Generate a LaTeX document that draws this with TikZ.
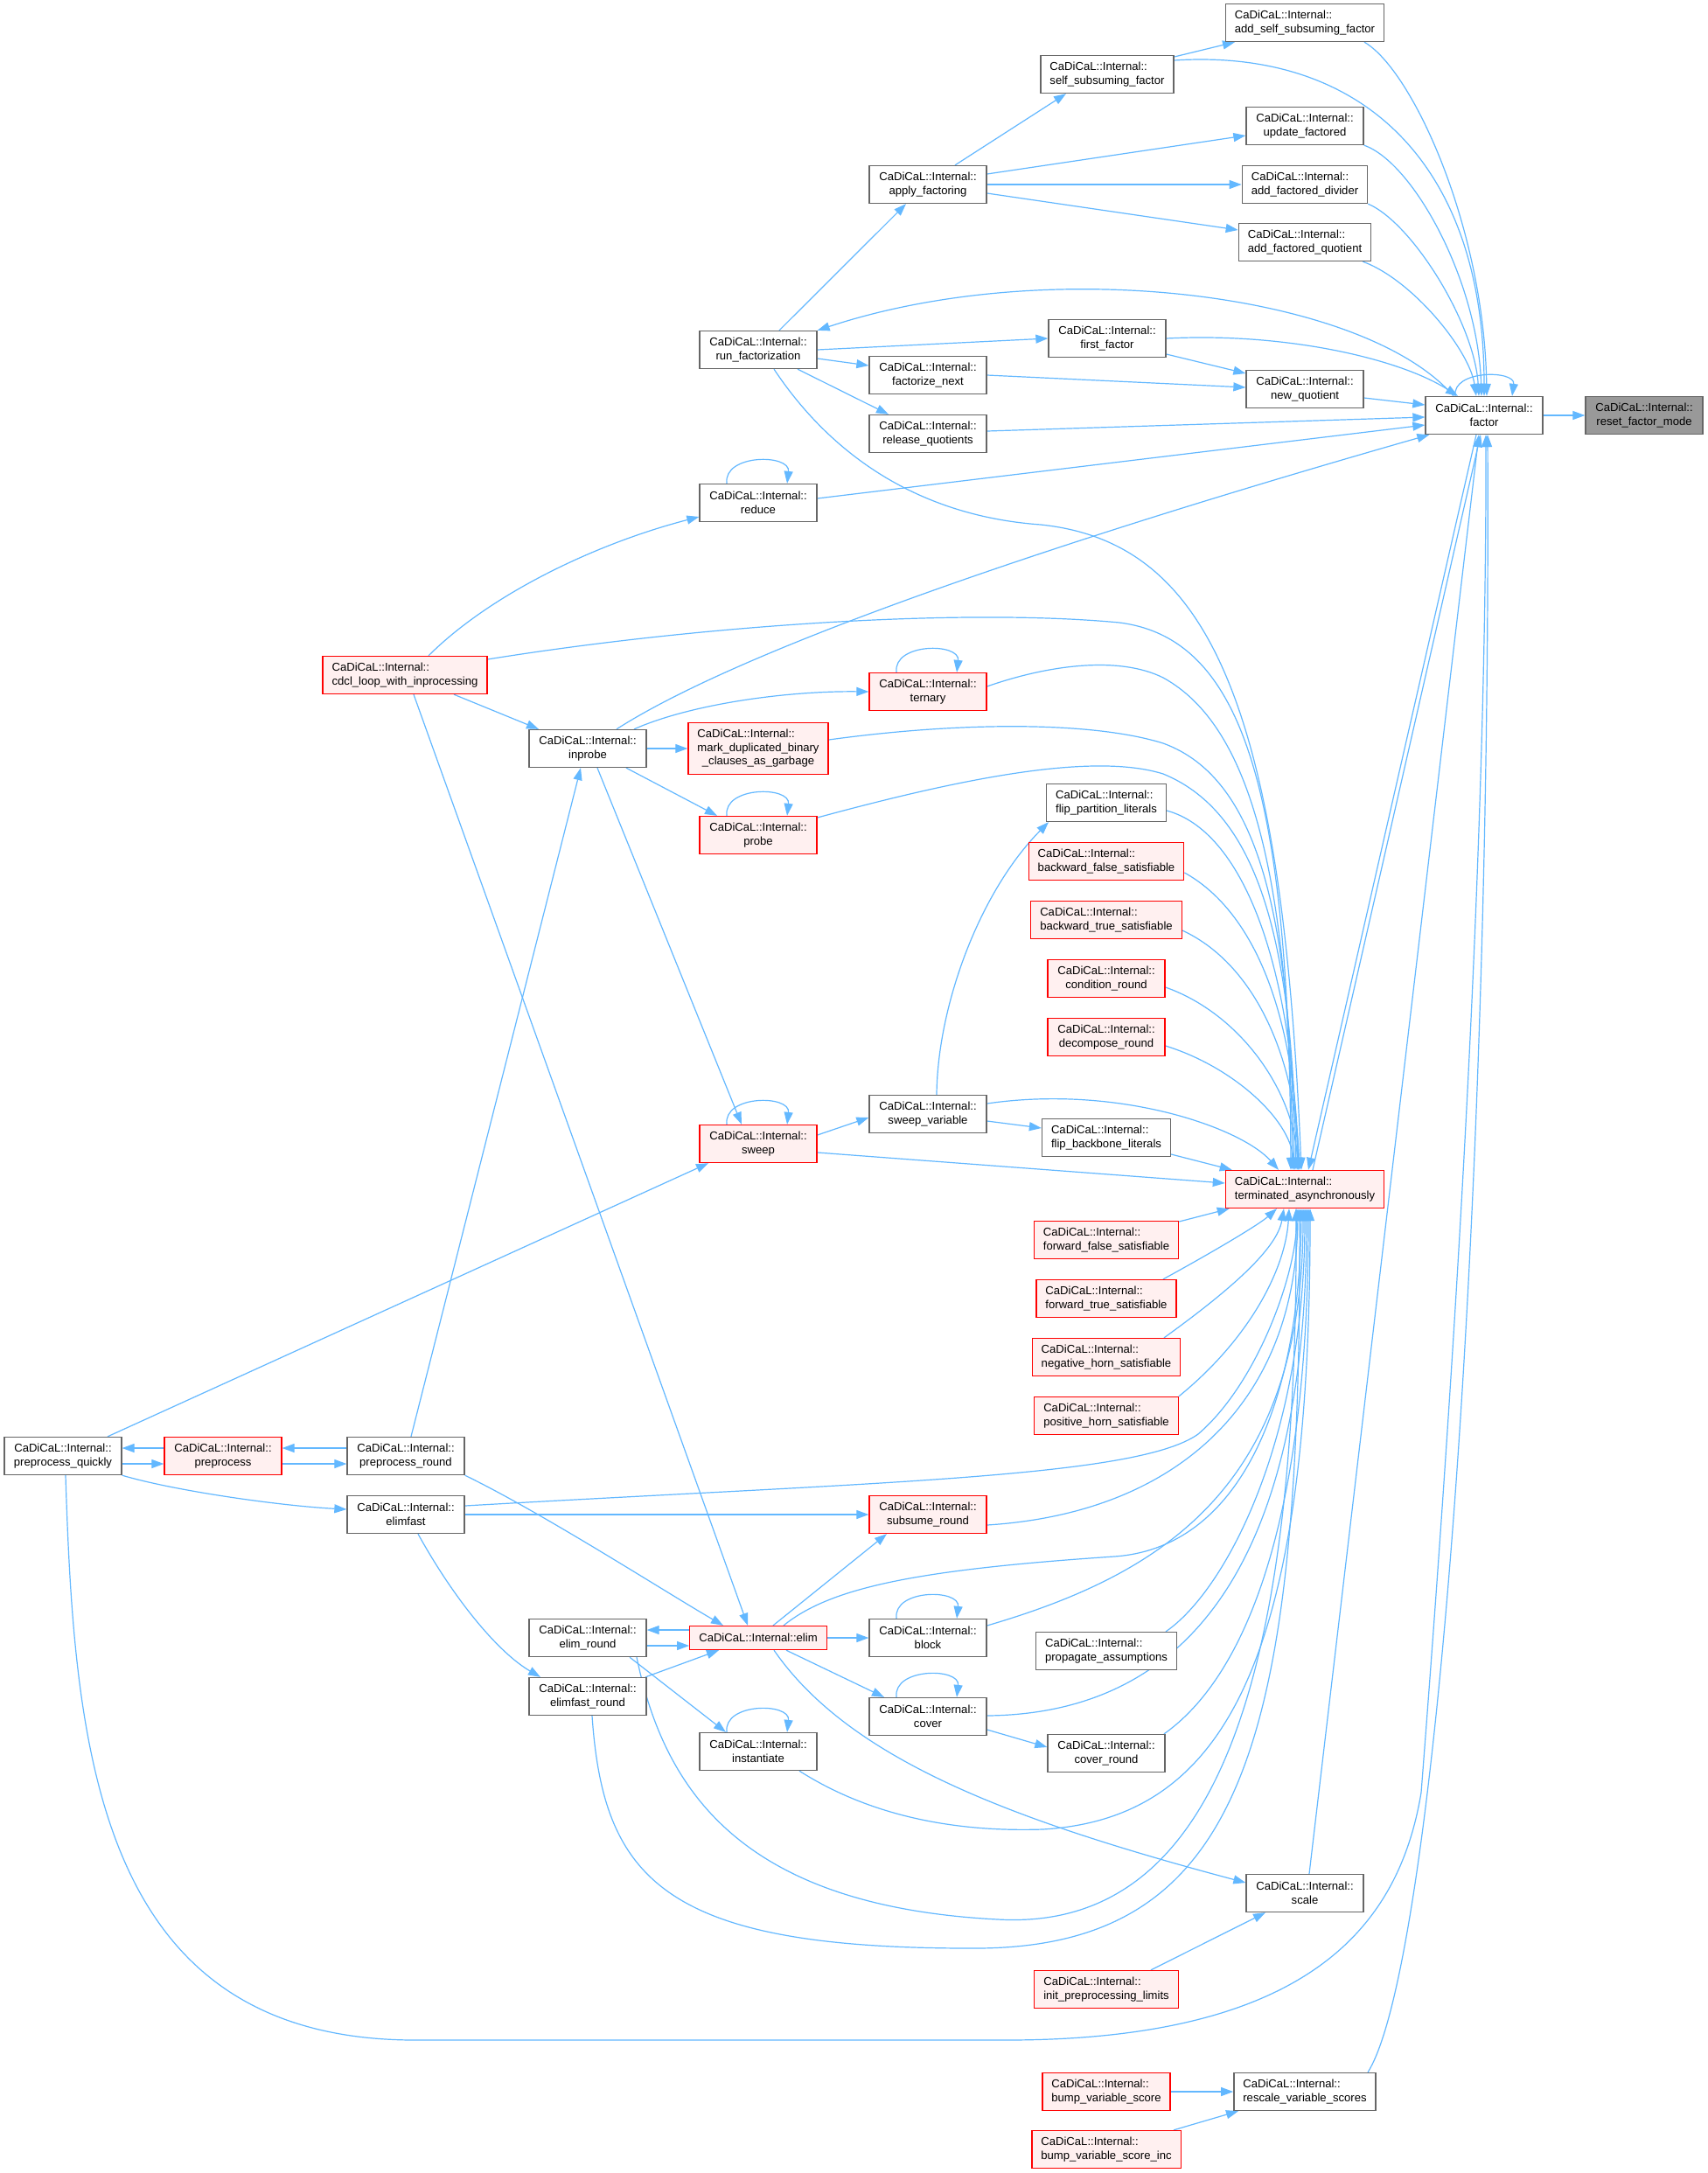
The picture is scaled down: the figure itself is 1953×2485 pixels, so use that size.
\documentclass[tikz,border=0pt]{standalone}
\usepackage{fontspec}
\setmainfont{Liberation Sans}
\usetikzlibrary{arrows.meta}
\definecolor{edgeblue}{HTML}{63B8FF}
\definecolor{nodegray}{HTML}{666666}
\definecolor{focusfill}{HTML}{999999}
\definecolor{redfill}{HTML}{FFF0F0}
\pgfdeclarelayer{bg}
\pgfsetlayers{bg,main}
\newcommand\CDI{CaDiCaL::Internal::}
\newcommand\myloop[1]{\draw[conn] ([xshift=-36pt]#1.north) .. controls +(-4,-34) and +(4,-34) .. ([xshift=33pt]#1.north);}
\begin{document}
\begin{tikzpicture}[x=1pt,y=-1pt,
  fn/.style={draw=nodegray, fill=white, line width=1.3pt, font={\fontsize{13.1}{15.5}\selectfont}, align=center, minimum width=134pt, minimum height=43pt, inner xsep=10.5pt, inner ysep=0pt},
  fnl/.style={fn, align=left},
  trunc/.style={draw=red, fill=redfill},
  focus/.style={fill=focusfill},
  conn/.style={draw=edgeblue, line width=1.2pt, -{Triangle[length=14pt,width=10pt]}}
]
\useasboundingbox (0,0) rectangle (1953,2485);
% nodes
\node[fn,focus] (reset) at (1880,475) {\CDI\\reset\_factor\_mode};
\node[fn] (factor) at (1697,475) {\CDI\\factor};
\node[fnl] (addself) at (1492,26) {\CDI\\add\_self\_subsuming\_factor};
\node[fnl] (selfsub) at (1266,85) {\CDI\\self\_subsuming\_factor};
\node[fn] (upd) at (1492,144) {\CDI\\update\_factored};
\node[fnl] (adddiv) at (1492,211) {\CDI\\add\_factored\_divider};
\node[fnl] (addquo) at (1492,277) {\CDI\\add\_factored\_quotient};
\node[fn] (apply) at (1061,211) {\CDI\\apply\_factoring};
\node[fn] (runf) at (867,400) {\CDI\\run\_factorization};
\node[fn] (first) at (1266,387) {\CDI\\first\_factor};
\node[fn] (fnext) at (1061,429) {\CDI\\factorize\_next};
\node[fn] (newq) at (1492,445) {\CDI\\new\_quotient};
\node[fn] (relq) at (1061,496) {\CDI\\release\_quotients};
\node[fn] (reduce) at (867,575) {\CDI\\reduce};
\node[fnl,trunc] (cdcl) at (463,772) {\CDI\\cdcl\_loop\_with\_inprocessing};
\node[fn,trunc] (ternary) at (1061,791) {\CDI\\ternary};
\node[fn] (inprobe) at (672,856) {\CDI\\inprobe};
\node[fnl,trunc,minimum height=59pt] (markdup) at (867,856) {\CDI\\mark\_duplicated\_binary\\\hspace*{5.5pt}\_clauses\_as\_garbage};
\node[fn,trunc] (probe) at (867,955) {\CDI\\probe};
\node[fnl] (flippart) at (1265,918) {\CDI\\flip\_partition\_literals};
\node[fnl,trunc] (bwfalse) at (1265,985) {\CDI\\backward\_false\_satisfiable};
\node[fnl,trunc] (bwtrue) at (1265,1052) {\CDI\\backward\_true\_satisfiable};
\node[fn,trunc] (condround) at (1265,1119) {\CDI\\condition\_round};
\node[fn,trunc] (decround) at (1265,1186) {\CDI\\decompose\_round};
\node[fn] (sweepvar) at (1061,1274) {\CDI\\sweep\_variable};
\node[fn,trunc] (sweep) at (867,1308) {\CDI\\sweep};
\node[fnl] (flipback) at (1265,1301) {\CDI\\flip\_backbone\_literals};
\node[fnl,trunc] (term) at (1492,1360) {\CDI\\terminated\_asynchronously};
\node[fnl,trunc] (fwfalse) at (1265,1418) {\CDI\\forward\_false\_satisfiable};
\node[fnl,trunc] (fwtrue) at (1265,1485) {\CDI\\forward\_true\_satisfiable};
\node[fnl,trunc] (neghorn) at (1265,1552) {\CDI\\negative\_horn\_satisfiable};
\node[fnl,trunc] (poshorn) at (1265,1619) {\CDI\\positive\_horn\_satisfiable};
\node[fn] (pquick) at (72,1665) {\CDI\\preprocess\_quickly};
\node[fn,trunc] (preproc) at (255,1665) {\CDI\\preprocess};
\node[fn] (pround) at (464,1665) {\CDI\\preprocess\_round};
\node[fn] (elimfast) at (464,1732) {\CDI\\elimfast};
\node[fn,trunc] (subsume) at (1061,1732) {\CDI\\subsume\_round};
\node[fn] (elimround) at (672,1873) {\CDI\\elim\_round};
\node[fn,trunc,minimum height=27pt] (elim) at (867,1873) {\CDI{}elim};
\node[fn] (block) at (1061,1873) {\CDI\\block};
\node[fnl] (propagate) at (1265,1888) {\CDI\\propagate\_assumptions};
\node[fn] (elimfastround) at (672,1940) {\CDI\\elimfast\_round};
\node[fn] (cover) at (1061,1963) {\CDI\\cover};
\node[fn] (instantiate) at (867,2003) {\CDI\\instantiate};
\node[fn] (coverround) at (1265,2005) {\CDI\\cover\_round};
\node[fn] (scale) at (1492,2165) {\CDI\\scale};
\node[fnl,trunc] (initpre) at (1265,2275) {\CDI\\init\_preprocessing\_limits};
\node[fnl] (rescale) at (1492,2392) {\CDI\\rescale\_variable\_scores};
\node[fnl,trunc] (bump) at (1265,2392) {\CDI\\bump\_variable\_score};
\node[fnl,trunc] (bumpinc) at (1265,2458) {\CDI\\bump\_variable\_score\_inc};
% edges
\begin{pgfonlayer}{bg}
\fill[white] (0,0) rectangle (1953,2485);
\draw[conn] (factor.east) -- (reset.west);
\draw[conn] ([xshift=-33pt]factor.north) .. controls +(-4,-30) and +(4,-30) .. ([xshift=32pt]factor.north);
\draw[conn] ([xshift=68pt]addself.south) .. controls (1615,80) and (1697,260) .. ([xshift=3pt]factor.north);
\draw[conn] ([yshift=16pt]selfsub.east) .. controls (1560,55) and (1697,190) .. ([xshift=0pt]factor.north);
\draw[conn] ([yshift=20pt]selfsub.east) -- ([xshift=-80pt]addself.south);
\draw[conn] ([xshift=31pt]apply.north) -- ([xshift=-47pt]selfsub.south);
\draw[conn] ([yshift=12pt]apply.east) -- ([yshift=-11pt]upd.west);
\draw[conn] (apply.east) -- (adddiv.west);
\draw[conn] ([yshift=-10pt]apply.east) -- ([yshift=14pt]addquo.west);
\draw[conn] (upd.south east) .. controls (1615,185) and (1690,320) .. ([xshift=-3pt]factor.north);
\draw[conn] (adddiv.south east) .. controls (1615,255) and (1686,370) .. ([xshift=-6pt]factor.north);
\draw[conn] ([xshift=-10pt]addquo.south east) .. controls (1615,320) and (1680,400) .. ([xshift=-9pt]factor.north);
\draw[conn] ([xshift=24pt]runf.north) -- ([xshift=-25pt]apply.south);
\draw[conn] ([xshift=-35pt]factor.north) .. controls (1560,335) and (1200,290) .. (runf.north east);
\draw[conn] (runf.east) -- (first.west);
\draw[conn] (first.east) .. controls (1470,380) and (1600,410) .. ([xshift=-30pt]factor.north);
\draw[conn] ([yshift=-18pt]first.east) -- ([yshift=18pt]newq.west);
\draw[conn] (fnext.east) -- ([yshift=2pt]newq.west);
\draw[conn] ([yshift=-10pt]newq.east) -- ([yshift=12pt]factor.west);
\draw[conn] ([yshift=-10pt]runf.east) -- ([yshift=11pt]fnext.west);
\draw[conn] ([xshift=45pt]runf.south) -- ([xshift=-45pt]relq.north);
\draw[conn] ([yshift=3pt]relq.east) -- ([yshift=-2pt]factor.west);
\draw[conn] ([yshift=5pt]reduce.east) -- ([yshift=-11pt]factor.west);
\draw[conn] ([xshift=18pt]runf.south) .. controls (950,520) and (1050,590) .. (1190,600) .. controls (1380,620) and (1466,800) .. ([xshift=-4pt]term.north);
\draw[conn] ([xshift=33pt]inprobe.north) .. controls (820,760) and (1100,650) .. ([xshift=5pt]factor.south west);
\myloop{reduce}
\draw[conn] ([xshift=27pt]cdcl.north) .. controls (560,680) and (680,622) .. ([yshift=-16pt]reduce.west);
\draw[conn] ([yshift=18pt]cdcl.east) .. controls (800,715) and (1100,695) .. (1280,712) .. controls (1420,730) and (1474,900) .. ([xshift=-16pt]term.north);
\draw[conn] ([xshift=56pt]cdcl.south) -- ([xshift=-56pt]inprobe.north);
\draw[conn] ([xshift=10pt]cdcl.south) -- ([xshift=-12pt]elim.north);
\draw[conn] ([xshift=53pt]inprobe.north) .. controls (790,805) and (900,790) .. (ternary.west);
\draw[conn] (inprobe.east) -- (markdup.west);
\draw[conn] ([xshift=44pt]inprobe.south) -- ([xshift=-47pt]probe.north);
\draw[conn] ([xshift=11pt]inprobe.south) -- ([xshift=-19pt]sweep.north);
\draw[conn] ([xshift=6pt]pround.north) -- ([xshift=-8pt]inprobe.south);
\myloop{ternary}
\myloop{probe}
\myloop{sweep}
\myloop{block}
\myloop{cover}
\myloop{instantiate}
\draw[conn] ([yshift=6pt]ternary.east) .. controls (1200,760) and (1280,750) .. (1330,775) .. controls (1430,830) and (1474,1000) .. ([xshift=-14pt]term.north);
\draw[conn] ([yshift=10pt]markdup.east) .. controls (1100,825) and (1250,825) .. (1330,850) .. controls (1440,890) and (1476,1050) .. ([xshift=-12pt]term.north);
\draw[conn] ([yshift=20pt]probe.east) .. controls (1100,890) and (1250,860) .. (1330,885) .. controls (1440,930) and (1478,1080) .. ([xshift=-10pt]term.north);
\draw[conn] ([yshift=-9pt]flippart.east) .. controls (1420,950) and (1478,1100) .. ([xshift=-8pt]term.north);
\draw[conn] ([yshift=-13pt]bwfalse.east) .. controls (1430,1040) and (1480,1150) .. ([xshift=-7pt]term.north);
\draw[conn] ([yshift=-12pt]bwtrue.east) .. controls (1430,1100) and (1480,1200) .. ([xshift=-6pt]term.north);
\draw[conn] ([yshift=-10pt]condround.east) .. controls (1420,1160) and (1480,1250) .. ([xshift=-8pt]term.north);
\draw[conn] ([yshift=-10pt]decround.east) .. controls (1410,1220) and (1475,1280) .. ([xshift=-12pt]term.north);
\draw[conn] ([yshift=12pt]sweepvar.east) .. controls (1280,1240) and (1420,1290) .. ([xshift=-30pt]term.north);
\draw[conn] ([yshift=-19pt]flipback.east) -- ([xshift=8pt]term.north west);
\draw[conn] ([yshift=-10pt]sweep.east) -- ([yshift=7pt]term.west);
\draw[conn] ([xshift=-9pt]factor.south) -- ([xshift=4pt]term.north);
\draw[conn] ([xshift=9pt]term.north) -- ([xshift=-4pt]factor.south);
\draw[conn] ([yshift=21pt]fwfalse.east) -- ([xshift=5pt]term.south west);
\draw[conn] ([xshift=65pt]fwtrue.north) .. controls (1390,1430) and (1440,1400) .. ([xshift=-32pt]term.south);
\draw[conn] ([xshift=66pt]neghorn.north) .. controls (1400,1480) and (1460,1430) .. ([xshift=-24pt]term.south);
\draw[conn] (poshorn.north east) .. controls (1430,1530) and (1470,1450) .. ([xshift=-18pt]term.south);
\draw[conn] ([yshift=10pt]elimfast.east) .. controls (1000,1695) and (1300,1690) .. (1370,1640) .. controls (1440,1580) and (1484,1450) .. ([xshift=-10pt]term.south);
\draw[conn] ([yshift=-12pt]subsume.east) .. controls (1350,1730) and (1482,1600) .. ([xshift=-8pt]term.south);
\draw[conn] ([xshift=29pt]elim.north) .. controls (950,1815) and (1050,1795) .. (1274,1780) .. controls (1420,1770) and (1486,1600) .. ([xshift=-4pt]term.south);
\draw[conn] ([yshift=14pt]block.east) .. controls (1330,1800) and (1490,1700) .. ([xshift=-2pt]term.south);
\draw[conn] ([xshift=68pt]propagate.north) .. controls (1400,1820) and (1492,1650) .. (term.south);
\draw[conn] ([yshift=1pt]cover.east) .. controls (1350,1960) and (1494,1800) .. ([xshift=2pt]term.south);
\draw[conn] ([xshift=66pt]coverround.north) .. controls (1420,1920) and (1496,1750) .. ([xshift=4pt]term.south);
\draw[conn] ([xshift=47pt]instantiate.south) .. controls (1000,2080) and (1100,2095) .. (1192,2092) .. controls (1400,2080) and (1498,1900) .. ([xshift=6pt]term.south);
\draw[conn] ([xshift=56pt]elimround.south) .. controls (760,2050) and (850,2180) .. (1141,2195) .. controls (1400,2210) and (1484,1900) .. ([xshift=-10pt]term.south);
\draw[conn] ([xshift=5pt]elimfastround.south) .. controls (690,2150) and (760,2228) .. (1110,2228) .. controls (1420,2230) and (1488,2000) .. ([xshift=-6pt]term.south);
\draw[conn] ([xshift=18pt]elim.south) .. controls (970,2010) and (1150,2080) .. ([yshift=12pt]scale.west);
\draw[conn] ([xshift=5pt]scale.north) -- ([xshift=-6pt]factor.south);
\draw[conn] ([xshift=51pt]initpre.north) -- ([xshift=-45pt]scale.south);
\draw[conn] (bump.east) -- (rescale.west);
\draw[conn] ([xshift=77pt]bumpinc.north) -- ([xshift=-76pt]rescale.south);
\draw[conn] ([xshift=72pt]rescale.north) .. controls (1640,2250) and (1705,1400) .. ([xshift=4pt]factor.south);
\draw[conn] ([xshift=3pt]pquick.south) .. controls (85,2000) and (110,2333) .. (475,2333) -- (1150,2333) .. controls (1500,2333) and (1600,2200) .. (1625,2050) .. controls (1660,1600) and (1700,1000) .. ([xshift=2pt]factor.south);
\draw[conn] ([yshift=9pt]preproc.west) -- ([yshift=9pt]pquick.east);
\draw[conn] ([yshift=-9pt]pquick.east) -- ([yshift=-9pt]preproc.west);
\draw[conn] ([yshift=9pt]pround.west) -- ([yshift=9pt]preproc.east);
\draw[conn] ([yshift=-9pt]preproc.east) -- ([yshift=-9pt]pround.west);
\draw[conn] (pquick.south east) .. controls (200,1705) and (320,1722) .. ([yshift=6pt]elimfast.west);
\draw[conn] ([xshift=51pt]pquick.north) -- ([xshift=-57pt]sweep.south);
\draw[conn] (pround.south east) .. controls (620,1730) and (760,1820) .. ([xshift=-40pt]elim.north);
\draw[conn] (elimfast.east) -- (subsume.west);
\draw[conn] ([xshift=14pt]elimfast.south) .. controls (520,1830) and (570,1890) .. ([xshift=-54pt]elimfastround.north);
\draw[conn] ([xshift=17pt]elim.north) -- ([xshift=-47pt]subsume.south);
\draw[conn] ([yshift=9pt]elim.west) -- ([yshift=9pt]elimround.east);
\draw[conn] ([yshift=-9pt]elimround.east) -- ([yshift=-9pt]elim.west);
\draw[conn] ([xshift=66pt]elimfastround.north) -- ([xshift=-45pt]elim.south);
\draw[conn] (elim.east) -- (block.west);
\draw[conn] ([xshift=32pt]elim.south) -- ([xshift=-50pt]cover.north);
\draw[conn] ([xshift=48pt]elimround.south) -- ([xshift=-37pt]instantiate.north);
\draw[conn] ([yshift=-15pt]cover.east) -- ([yshift=7pt]coverround.west);
\draw[conn] ([yshift=10pt]sweep.east) -- ([yshift=-4pt]sweepvar.west);
\draw[conn] ([xshift=10pt]sweepvar.north) .. controls (1072,1150) and (1120,1020) .. ([xshift=-66pt]flippart.south);
\draw[conn] ([yshift=-8pt]sweepvar.east) -- ([yshift=11pt]flipback.west);
\end{pgfonlayer}
\end{tikzpicture}
\end{document}
